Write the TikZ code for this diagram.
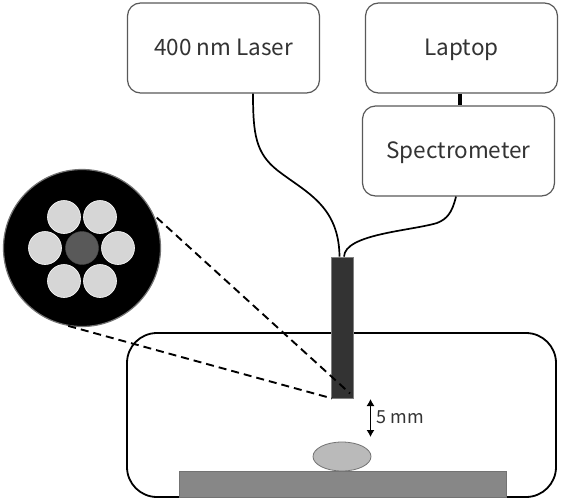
\documentclass[tikz,border=0pt]{standalone}
\usepackage{fontspec}
\setmainfont{Noto Sans CJK JP}[Scale=1]
\usetikzlibrary{arrows.meta,calc,shapes.geometric}
\begin{document}
\begin{tikzpicture}[x=1pt,y=-1pt,
  devbox/.style={draw=black!65,line width=1.2pt,rounded corners=13pt,fill=white,minimum width=192pt,minimum height=90pt,inner sep=0pt,text height=16pt,text depth=2pt,font=\fontsize{22.5}{24}\selectfont,text=black!80},
  cable/.style={draw=black,line width=1.7pt},
  lens/.style={draw=black,line width=1.9pt,dash pattern=on 8pt off 5pt},
  core/.style={circle,fill=black!16,draw=white,line width=0.6pt,minimum size=33pt,inner sep=0pt}]
\useasboundingbox (0,0) rectangle (561,501);
\node[draw=black,line width=1.8pt,rounded corners=30pt,minimum width=429pt,minimum height=164pt,inner sep=0pt] (chamber) at (341.5,415) {};
\node[devbox] (laser) at (223.5,48) {400 nm Laser};
\node[devbox] (laptop) at (461.5,48) {Laptop};
\node[devbox] (spec) at (458.5,151) {Spectrometer};
\draw[black,line width=3.5pt] ([xshift=-1.5pt]laptop.south) -- ([xshift=1.5pt]spec.north);
\node[draw=black!50,line width=0.8pt,fill=black!80,minimum width=22pt,minimum height=141pt,inner sep=0pt] (probe) at (342,327.5) {};
\draw[cable] ([xshift=29.5pt]laser.south) .. controls (253,135) and (256,153) .. (277,170) .. controls (305,192) and (339,205) .. ([xshift=-2.5pt]probe.north);
\draw[cable] ([xshift=-2.5pt]spec.south) .. controls (452,213) and (447,219) .. (437,223) .. controls (410,231) and (345,234) .. ([xshift=2pt]probe.north);
\node[draw=black!55,line width=1.2pt,fill=black,circle,minimum size=157pt,inner sep=0pt] (fiber) at (82,248) {};
\node[circle,fill=black!65,draw=black!70,line width=0.4pt,minimum size=33pt,inner sep=0pt] (c0) at (82,248) {};
\node[core] (c1) at (45,248) {};
\node[core] (c2) at (118,248) {};
\node[core] (c3) at (64,217) {};
\node[core] (c4) at (100,217) {};
\node[core] (c5) at (64,281) {};
\node[core] (c6) at (100,281) {};
\coordinate (tipa) at ([xshift=8pt,yshift=5pt]probe.south);
\coordinate (tipb) at ([xshift=-10pt]probe.south);
\draw[lens] ([shift={(3pt,-3pt)}]fiber.25) -- (tipa);
\draw[lens] (fiber.-100) -- (tipb);
\coordinate (gapa) at (370.5,399);
\coordinate (gapb) at (370.5,437);
\draw[black,line width=1.1pt,{Latex[length=7pt,width=8pt]}-{Latex[length=7pt,width=8pt]}] (gapa) -- (gapb);
\node[font=\fontsize{18}{20}\selectfont,text=black!80,inner sep=0pt,text height=12pt,text depth=0pt] (gaplabel) at (400.5,417) {5 mm};
\node[draw=black!55,line width=1pt,fill=black!47,minimum width=327pt,minimum height=26pt,inner sep=0pt] (plate) at (342.5,484) {};
\node[draw=black!55,line width=0.8pt,fill=black!27,ellipse,minimum width=58pt,minimum height=29pt,inner sep=0pt] (sample) at (342,456.5) {};
\end{tikzpicture}
\end{document}
